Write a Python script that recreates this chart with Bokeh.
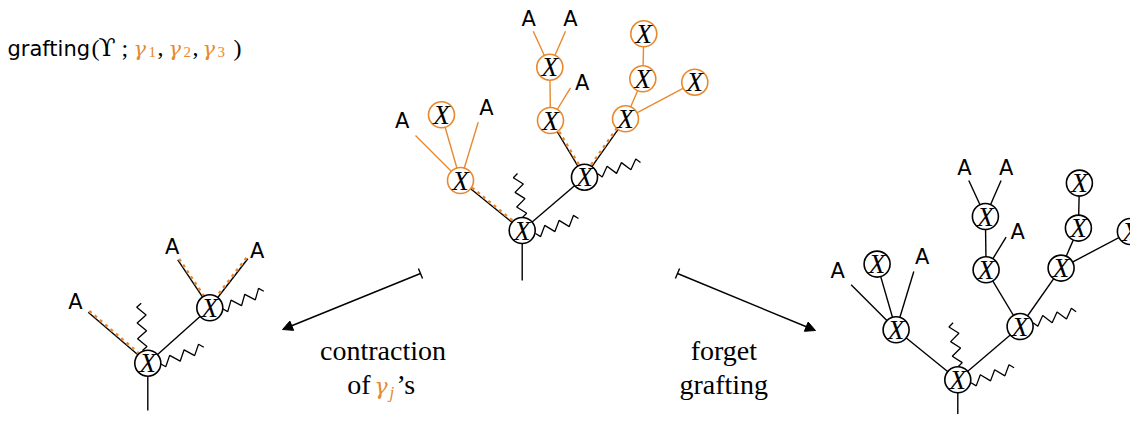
import numpy as np
from bokeh.plotting import figure
from bokeh.models import Range1d, Arrow, TeeHead, NormalHead
from bokeh.core.properties import value
from bokeh.embed import file_html
from bokeh.resources import INLINE

ORANGE = "#E8892F"
SANS = "DejaVu Sans"
SERIF = "Liberation Serif"
MATH = "DejaVu Serif"

# ---------------- data: middle tree (grafted) ----------------
mid_node_x = [521.7, 584.0, 460.0, 441.0, 550.0, 549.3, 625.0, 642.3, 643.3, 694.3]
mid_node_y = [230.0, 176.7, 180.0, 114.3, 120.0, 66.7, 118.3, 78.3, 33.3, 81.7]
mid_node_orange = [False, False, True, True, True, True, True, True, True, True]
mid_edges = [(0, 2, "dash"), (0, 1, "black"), (1, 4, "dash"), (1, 6, "dash"),
             (2, 3, "orange"), (4, 5, "orange"), (6, 7, "orange"), (7, 8, "orange"), (6, 9, "orange")]
mid_leaf_parent = [2, 2, 4, 5, 5]
mid_leaf_end_x = [415.0, 477.7, 570.0, 532.7, 565.0]
mid_leaf_end_y = [135.0, 121.7, 87.3, 30.7, 30.7]
mid_leaf_label_x = [401.7, 486.0, 581.7, 528.3, 570.0]
mid_leaf_label_y = [120.7, 107.3, 82.3, 18.3, 18.3]
mid_stem = (521.7, 280.0)
mid_zig = [((522.0, 217.0), (517.0, 173.0)), ((535.0, 233.0), (578.0, 218.0)), ((597.0, 173.0), (640.0, 162.0))]

# right tree = same tree, shifted, all black
right_shift = (435.6, 149.3)

# ---------------- data: left tree (contracted) ----------------
left_node_x = [147.3, 209.3]
left_node_y = [362.7, 307.3]
left_edges = [(0, 1, "black")]
left_leaf_parent = [0, 1, 1]
left_leaf_end_x = [87.7, 177.3, 247.3]
left_leaf_end_y = [311.7, 259.3, 258.3]
left_leaf_label_x = [75.0, 171.7, 256.7]
left_leaf_label_y = [301.7, 246.7, 250.0]
left_stem = (147.3, 410.0)
left_zig = [((142.0, 350.0), (140.7, 302.7)), ((160.0, 363.3), (203.3, 346.7)), ((222.0, 308.3), (263.3, 290.7))]

# arrows
arrows = [((420.0, 273.0), (282.0, 329.0)), ((677.0, 273.0), (815.0, 330.0))]

p = figure(width=1130, height=414, x_range=Range1d(0, 1130), y_range=Range1d(414, 0),
           x_axis_type=None, y_axis_type=None, toolbar_location=None,
           output_backend="svg", min_border=0, outline_line_color=None)
p.xgrid.visible = False
p.ygrid.visible = False
p.background_fill_color = "white"


def seg(a, b, color, width=1.4):
    p.line([a[0], b[0]], [a[1], b[1]], line_color=color, line_width=width)


def dashed_overlay(a, b):
    a = np.array(a, float); b = np.array(b, float)
    d = b - a
    n = np.array([-d[1], d[0]]) / np.hypot(*d)
    if n[1] > 0:
        n = -n
    off = 1.6 * n
    p.line([a[0] + off[0], b[0] + off[0]], [a[1] + off[1], b[1] + off[1]],
           line_color=ORANGE, line_width=2.6, line_dash="3 4")


def zigzag(s, e, m=6, amp=4.6):
    s = np.array(s, float); e = np.array(e, float)
    d = e - s
    n = np.array([-d[1], d[0]]) / np.hypot(*d)
    ts = [0.0] + [(2 * k + 1) / (2 * m) for k in range(m)] + [1.0]
    offs = [0.0] + [amp * (1 if k % 2 == 0 else -1) for k in range(m)] + [0.0]
    xs = [s[0] + t * d[0] + o * n[0] for t, o in zip(ts, offs)]
    ys = [s[1] + t * d[1] + o * n[1] for t, o in zip(ts, offs)]
    p.line(xs, ys, line_color="black", line_width=1.3)


def draw_tree(nx, ny, norange, edges, lp, lex, ley, llx, lly, stem, zigs,
              colored=True, leaf_style=None, shift=(0.0, 0.0)):
    sx, sy = shift
    nx = [x + sx for x in nx]; ny = [y + sy for y in ny]
    seg((nx[0], ny[0]), (stem[0] + sx, stem[1] + sy), "black")
    for (z0, z1) in zigs:
        zigzag((z0[0] + sx, z0[1] + sy), (z1[0] + sx, z1[1] + sy))
    for (i, j, kind) in edges:
        a = (nx[i], ny[i]); b = (nx[j], ny[j])
        if not colored:
            seg(a, b, "black")
        elif kind == "orange":
            seg(a, b, ORANGE)
        else:
            seg(a, b, "black")
            if kind == "dash":
                dashed_overlay(a, b)
    for k, par in enumerate(lp):
        a = (nx[par], ny[par]); b = (lex[k] + sx, ley[k] + sy)
        kind = leaf_style if leaf_style else ("orange" if norange[par] else "black")
        if not colored:
            kind = "black"
        if kind == "orange":
            seg(a, b, ORANGE)
        else:
            seg(a, b, "black")
            if kind == "dash":
                dashed_overlay(b, a)
    lcol = [ORANGE if (o and colored) else "black" for o in norange]
    p.circle(nx, ny, radius=13, fill_color="white", line_color=lcol, line_width=1.6)
    p.text(nx, ny, text=["X"] * len(nx), text_font=value(SERIF), text_font_style="italic",
           text_font_size="27px", text_align="center", text_baseline="middle", text_color="black")
    p.text([x + sx for x in llx], [y + sy for y in lly], text=["A"] * len(llx),
           text_font=value(SANS), text_font_size="21px", text_align="center",
           text_baseline="middle", text_color="black")


draw_tree(mid_node_x, mid_node_y, mid_node_orange, mid_edges, mid_leaf_parent,
          mid_leaf_end_x, mid_leaf_end_y, mid_leaf_label_x, mid_leaf_label_y, mid_stem, mid_zig)
draw_tree(mid_node_x, mid_node_y, mid_node_orange, mid_edges, mid_leaf_parent,
          mid_leaf_end_x, mid_leaf_end_y, mid_leaf_label_x, mid_leaf_label_y, mid_stem, mid_zig,
          colored=False, shift=right_shift)
draw_tree(left_node_x, left_node_y, [False, False], left_edges, left_leaf_parent,
          left_leaf_end_x, left_leaf_end_y, left_leaf_label_x, left_leaf_label_y, left_stem, left_zig,
          leaf_style="dash")

for (a, b) in arrows:
    p.add_layout(Arrow(x_start=a[0], y_start=a[1], x_end=b[0], y_end=b[1], line_width=1.4,
                       start=TeeHead(size=11, line_width=1.4),
                       end=NormalHead(size=10, fill_color="black", line_color="black", line_width=1)))


def txt(x, base, s, font=SERIF, size=28, color="black", style="normal", align="left"):
    # place by baseline, anchored at the middle of the font box
    y = base - 0.34 * size
    p.text([x], [y], text=[s], text_font=value(font), text_font_size=f"{size}px", text_color=color,
           text_font_style=style, text_align=align, text_baseline="middle")


# title: grafting(ϒ; γ1, γ2, γ3)
TB = 55.5
txt(7, TB, "grafting", font=SANS, size=21)
txt(91, TB, "(", size=24)
txt(98, TB, "ϒ", font=MATH, size=25)
txt(121, TB, ";", size=24)
for gx, sub, cx in [(133, "1", 157), (168, "2", 192), (202, "3", None)]:
    txt(gx, TB, "γ", font=MATH, size=21, color=ORANGE, style="italic")
    txt(gx + 15, TB + 1.5, sub, size=15, color=ORANGE)
    if cx is not None:
        txt(cx, TB, ",", size=24)
txt(233, TB, ")", size=24)

# bottom captions
txt(382.5, 360, "contraction", align="center")
txt(346.7, 393.3, "of")
txt(374, 393.3, "γ", font=MATH, size=22, color=ORANGE, style="italic")
txt(389, 398, "j", size=17, color=ORANGE, style="italic")
txt(396, 393.3, "’s")
txt(723.3, 360, "forget", align="center")
txt(723.3, 393.3, "grafting", align="center")

open("out.html", "w").write(file_html(p, INLINE))
